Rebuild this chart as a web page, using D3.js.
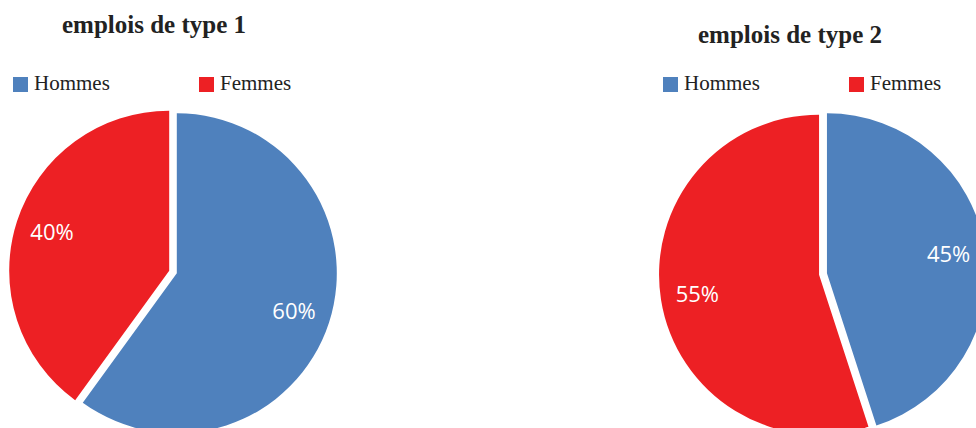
<!DOCTYPE html>
<html>
<head>
<meta charset="utf-8">
<script src="https://cdn.jsdelivr.net/npm/d3@7"></script>
<style>
  body { margin: 0; background: #fff; }
  svg { display: block; }
</style>
</head>
<body>
<script>
const categories = ["Hommes", "Femmes"];
const titles = ["emplois de type 1", "emplois de type 2"];
const type1 = [60, 40];
const type2 = [45, 55];
const colors = ["#4F81BD", "#ED2024"];

const width = 976, height = 428;
const radius = 160;
const explode = 4;

// one panel per chart: pie centre, title position, legend row
const panels = [
  {values: type1, title: titles[0], cx: 173, cy: 272, tx: 154, ty: 33, lx: 13, ly: 77},
  {values: type2, title: titles[1], cx: 823, cy: 274, tx: 790, ty: 43, lx: 663, ly: 77}
];

const svg = d3.select("body").append("svg")
  .attr("width", width)
  .attr("height", height);

const pie = d3.pie().sort(null).value(d => d);
const arc = d3.arc().innerRadius(0).outerRadius(radius);
const labelArc = d3.arc().innerRadius(radius * 0.77).outerRadius(radius * 0.77);
const color = d3.scaleOrdinal().domain(categories).range(colors);

panels.forEach(p => {
  const g = svg.append("g").attr("transform", `translate(${p.cx},${p.cy})`);
  const arcs = pie(p.values);
  const total = d3.sum(p.values);

  const slice = g.selectAll("g.slice")
    .data(arcs)
    .join("g")
      .attr("class", "slice")
      .attr("transform", d => {
        const a = (d.startAngle + d.endAngle) / 2;
        return `translate(${Math.sin(a) * explode},${-Math.cos(a) * explode})`;
      });

  slice.append("path")
    .attr("d", arc)
    .attr("fill", (d, i) => color(categories[i]));

  slice.append("text")
    .attr("transform", d => `translate(${labelArc.centroid(d)})`)
    .attr("text-anchor", "middle")
    .attr("dy", "0.35em")
    .attr("fill", "#fff")
    .style("font", "22px 'Open Sans', sans-serif")
    .text(d => Math.round(d.value / total * 100) + "%");

  svg.append("text")
    .attr("x", p.tx)
    .attr("y", p.ty)
    .attr("text-anchor", "middle")
    .attr("fill", "#222")
    .style("font", "bold 25px 'Liberation Serif', 'Times New Roman', serif")
    .text(p.title);

  const legend = svg.append("g").attr("transform", `translate(${p.lx},${p.ly})`);
  const item = legend.selectAll("g")
    .data(categories)
    .join("g")
      .attr("transform", (d, i) => `translate(${i * 186},0)`);
  item.append("rect")
    .attr("width", 15)
    .attr("height", 15)
    .attr("fill", d => color(d));
  item.append("text")
    .attr("x", 21)
    .attr("y", 13)
    .attr("fill", "#222")
    .style("font", "21px 'Liberation Serif', 'Times New Roman', serif")
    .text(d => d);
});
</script>
</body>
</html>
